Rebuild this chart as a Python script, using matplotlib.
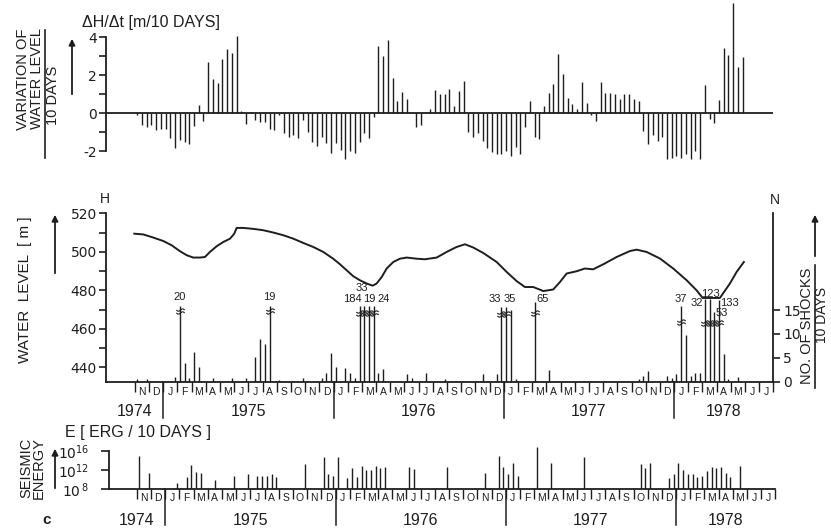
import numpy as np
import matplotlib
matplotlib.use("Agg")
import matplotlib.pyplot as plt
from matplotlib import font_manager
from matplotlib.lines import Line2D
from matplotlib.path import Path
from matplotlib.patches import FancyArrowPatch
from matplotlib.ticker import FuncFormatter, NullLocator
from matplotlib.transforms import blended_transform_factory

# ------------------------------------------------------------------ data
# time axis: 10-day periods, index 0 = 1-10 Sep 1974 ... index 140 = 21-31 Jul 1978
n_periods = 141
month_letters = ["J", "F", "M", "A", "M", "J", "J", "A", "S", "O", "N", "D"]
year_labels = [1974, 1975, 1976, 1977, 1978]

# variation of water level per 10 days [m], periods 6 .. 134
dh_first_period = 6
dh_values = [
    -0.1, -0.6, -0.7, -0.6, -0.9, -0.85, -0.8, -1.3, -1.8, -1.4, -1.5, -1.6,
    -0.65, 0.44, -0.4, 2.7, 1.8, 1.6, 2.85, 3.4, 3.2, 4.07, 0.12, -0.58,
    0.07, -0.35, -0.44, -0.44, -0.8, -0.88, -0.1, -1.05, -1.26, -1.14, -1.32, -0.35,
    -1.0, -1.53, -1.7, -1.23, -1.58, -2.1, -1.58, -1.93, -2.42, -2.0, -2.07, -1.5,
    -1.05, -1.3, -0.2, 3.55, 3.0, 3.85, 1.85, 0.67, 1.14, 0.75, 0.0, -0.74,
    -0.6, 0.07, 0.22, 1.25, 1.03, 1.0, 1.3, 0.39, 1.18, 1.7, -0.98, -1.23,
    -1.02, -1.46, -1.84, -2.02, -2.12, -2.16, -1.98, -2.25, -1.75, -2.16, -0.72, 0.65,
    -1.25, -1.37, 0.39, 1.05, 1.53, 3.1, 2.05, 0.82, 0.47, 0.21, 1.65, 0.56,
    -0.1, -0.4, 1.65, 1.05, 1.05, 1.03, 0.77, 1.0, 1.0, 0.77, 0.65, -0.93,
    -1.63, -1.16, -1.46, -1.23, -2.39, -2.33, -2.25, -2.33, -2.16, -2.42, -1.98, -2.39,
    1.47, -0.28, -0.53, 0.7, 3.46, 3.07, 5.79, 2.44, 2.98,
]

# water level H [m] (time in decimal years)
level_time = [
    1974.830, 1974.883, 1974.941, 1975.000, 1975.049, 1975.098, 1975.138, 1975.176,
    1975.216, 1975.245, 1975.274, 1975.314, 1975.353, 1975.392, 1975.417, 1975.431,
    1975.470, 1975.529, 1975.587, 1975.646, 1975.705, 1975.764, 1975.822, 1975.881,
    1975.940, 1975.998, 1976.038, 1976.077, 1976.116, 1976.155, 1976.195, 1976.230,
    1976.253, 1976.283, 1976.312, 1976.351, 1976.390, 1976.430, 1976.488, 1976.537,
    1976.606, 1976.664, 1976.723, 1976.772, 1976.821, 1976.879, 1976.958, 1977.017,
    1977.075, 1977.124, 1977.173, 1977.232, 1977.290, 1977.330, 1977.369, 1977.428,
    1977.476, 1977.525, 1977.584, 1977.663, 1977.741, 1977.780, 1977.839, 1977.917,
    1977.995, 1978.074, 1978.132, 1978.168, 1978.269, 1978.328, 1978.367, 1978.410,
]
level_m = [
    509.4, 509.0, 507.4, 505.6, 503.4, 500.3, 498.2, 497.0,
    497.0, 497.3, 499.9, 502.9, 505.1, 506.8, 509.4, 512.4,
    512.4, 511.9, 511.2, 510.0, 508.6, 506.8, 504.6, 502.5,
    499.9, 496.4, 493.5, 490.4, 487.3, 485.2, 483.5, 482.4,
    483.5, 486.9, 491.3, 494.7, 496.4, 497.0, 496.4, 496.1,
    497.0, 499.9, 502.5, 503.9, 502.2, 499.4, 494.7, 489.5,
    484.8, 481.7, 481.7, 479.6, 480.4, 484.3, 488.7, 489.9,
    491.3, 490.9, 493.5, 497.3, 500.4, 501.1, 499.9, 496.5,
    491.3, 485.2, 480.0, 476.0, 476.0, 483.5, 489.5, 494.7,
]

# number of shocks per 10 days
shock_periods = [6, 8, 14, 15, 16, 17, 18, 19, 22, 26, 29, 31, 32, 33, 34, 36, 41, 45,
                 46, 47, 48, 50, 51, 52, 53, 54, 55, 56, 57, 58, 63, 64, 67, 71, 79,
                 82, 83, 84, 85, 86, 90, 93, 112, 113, 114, 118, 119, 120, 121, 122,
                 123, 124, 125, 126, 127, 128, 129, 130, 131, 133]
shock_counts = [0.5, 0.5, 0.9, 20, 3.9, 0.7, 6.2, 3.0, 0.7, 0.7, 0.7, 5.1, 9.0, 7.8, 19,
                0.3, 0.7, 0.7, 1.8, 5.9, 3.0, 2.8, 1.8, 0.7, 184, 33, 19, 24, 1.8, 2.6,
                1.6, 0.7, 1.8, 0.5, 1.6, 1.6, 33, 35, 15, 0.5, 65, 2.5, 0.5, 1.2, 2.3,
                1.1, 0.7, 1.6, 37, 9.7, 1.1, 1.9, 1.9, 32, 123, 53, 133, 5.7, 0.5, 0.9]
shock_axis_max = 15  # counts above this are drawn broken (with value label)

# seismic energy per 10 days, log10(E [erg])
energy_periods = [6, 8, 14, 16, 17, 18, 19, 22, 26, 29, 31, 32, 33, 34, 35, 41, 45, 46,
                  47, 48, 50, 51, 52, 53, 54, 55, 56, 57, 58, 63, 64, 71, 79, 82, 83,
                  84, 85, 86, 90, 93, 100, 112, 113, 114, 118, 119, 120, 121, 122, 123,
                  124, 125, 126, 127, 128, 129, 130, 131, 133]
energy_log10 = [14.9, 11.5, 9.25, 10.5, 13.1, 11.7, 11.5, 9.9, 10.85, 11.1, 10.85, 10.85,
                10.8, 11.1, 10.6, 13.2, 14.7, 11.1, 10.85, 14.7, 10.4, 12.4, 10.6, 12.9,
                12.0, 12.0, 12.9, 12.5, 12.65, 12.65, 12.2, 12.6, 11.3, 14.9, 12.7, 11.2,
                13.4, 10.8, 16.75, 13.4, 14.7, 13.2, 12.4, 13.4, 10.4, 11.2, 13.4, 12.0,
                11.2, 11.2, 10.5, 10.85, 11.9, 12.6, 12.4, 12.6, 11.5, 10.5, 12.9]

# layout of the broken (off-scale) shock bars: drawn top, break mark, label dx, label y
break_layout = {
    15: (15.8, 14.8, 0.0, 17.7), 34: (15.8, 14.8, 0.0, 17.7),
    53: (15.8, 14.4, -1.6, 17.3), 54: (15.8, 14.4, -0.5, 19.7),
    55: (15.8, 14.4, 0.0, 17.3), 56: (15.8, 14.4, 2.0, 17.3),
    83: (15.7, 14.2, -1.5, 17.4), 84: (15.7, 14.2, 0.8, 17.4),
    90: (16.7, 14.3, 1.7, 17.2), 121: (15.9, 12.5, 0.0, 17.4),
    126: (17.4, 12.3, -1.6, 16.5), 127: (17.4, 12.3, 0.2, 18.3),
    128: (14.6, 12.3, 1.6, 14.3), 129: (17.0, 12.3, 2.3, 16.5),
}

# ------------------------------------------------------------------ style
W, H = 831, 530
INK = "#1e1e1e"


def have(name):
    try:
        font_manager.findfont(font_manager.FontProperties(family=name), fallback_to_default=False)
        return True
    except Exception:
        return False


NARROW_OK = have("Liberation Sans Narrow")
NARROW = ["Liberation Sans Narrow", "DejaVu Sans"] if NARROW_OK else ["Liberation Sans", "DejaVu Sans"]
REG = ["Liberation Sans", "DejaVu Sans"]
TICKF = ["DejaVu Sans"]
SIDE = 11.5 if NARROW_OK else 10.5
plt.rcParams["font.family"] = NARROW
plt.rcParams["mathtext.fontset"] = "custom"
plt.rcParams["mathtext.rm"] = "DejaVu Sans"
plt.rcParams["text.color"] = INK
plt.rcParams["axes.edgecolor"] = INK
plt.rcParams["xtick.color"] = INK
plt.rcParams["ytick.color"] = INK

# "≈" break symbol drawn as a marker path (two small waves)
_t = np.linspace(-1, 1, 13)
_wave = 0.28 * np.sin(_t * np.pi)
_verts, _codes = [], []
for off in (0.35, -0.35):
    pts = list(zip(_t, _wave + off))
    _verts += pts
    _codes += [Path.MOVETO] + [Path.LINETO] * (len(pts) - 1)
BREAK_MARK = Path(_verts, _codes)


def px_rect(l, t, r, b):
    return [l / W, 1 - b / H, (r - l) / W, (b - t) / H]


def fx(x):
    return x / W


def fy(y):
    return 1 - y / H


fig = plt.figure(figsize=(W / 100, H / 100), dpi=100)
fig.patch.set_facecolor("white")

X0, X1 = 106.5, 773.4


def period_from_year(t):
    return (np.asarray(t) - (1974 + 8 / 12)) * 36


def style_left(ax, lo, hi):
    for s in ["top", "right"]:
        ax.spines[s].set_visible(False)
    ax.spines["left"].set_bounds(lo, hi)
    ax.spines["left"].set_linewidth(1.3)
    ax.patch.set_alpha(0)


def month_axis(ax, axes_h_px, letter_pad, year_drop, year_y):
    ax.spines["bottom"].set_linewidth(1.3)
    bounds = np.arange(6, n_periods + 1, 3)
    ax.set_xticks(bounds)
    ax.set_xticklabels([])
    mids = np.arange(6, n_periods, 3) + 1.5
    ax.set_xticks(mids, minor=True)
    ax.set_xticklabels([month_letters[(8 + int(m // 3)) % 12] for m in mids],
                       minor=True, family=REG, fontsize=7.5)
    ax.tick_params(axis="x", which="major", direction="out", length=7, width=1.0)
    ax.tick_params(axis="x", which="minor", length=0, pad=letter_pad)
    tr = blended_transform_factory(ax.transData, ax.transAxes)
    for yr in year_labels[1:]:
        xb = (yr - 1974) * 36 - 24
        ax.add_line(Line2D([xb, xb], [0, -year_drop / axes_h_px], transform=tr,
                           color=INK, lw=1.1, clip_on=False))
    for yr in year_labels:
        start = (yr - 1974) * 36 - 24
        a = max(0, start)
        b = min(n_periods, start + 36)
        ax.text((a + b) / 2, -year_y / axes_h_px, str(yr), transform=tr,
                ha="center", va="center", fontsize=11.5, family=REG)


# ---------------------------------------------------------------- panel a: dH/dt
ax1 = fig.add_axes(px_rect(X0, 1.2, X1, 168.4))
ax1.set_xlim(0, n_periods)
ax1.set_ylim(-2.9, 5.9)
dh_x = np.arange(len(dh_values)) + dh_first_period + 0.5
ax1.vlines(dh_x, 0, dh_values, colors=INK, lw=1.0)
ax1.axhline(0, color=INK, lw=1.3)
style_left(ax1, -2, 4)
ax1.spines["bottom"].set_visible(False)
ax1.set_xticks([])
ax1.set_yticks(range(-2, 5))
ax1.yaxis.set_major_formatter(FuncFormatter(lambda v, p: f"{int(v)}" if int(v) % 2 == 0 else ""))
ax1.tick_params(axis="y", direction="out", length=5, width=1.2, labelsize=10, pad=2)
for lb in ax1.get_yticklabels():
    lb.set_family(TICKF)

fig.text(fx(82), fy(22), "ΔH/Δt [m/10 DAYS]", fontsize=11.5, family=REG, va="center", ha="left")
fig.text(fx(23), fy(79), "VARIATION OF", rotation=90, ha="center", va="center", fontsize=SIDE)
fig.text(fx(37), fy(79), "WATER LEVEL", rotation=90, ha="center", va="center", fontsize=SIDE)
fig.add_artist(Line2D([fx(44.5), fx(44.5)], [fy(30), fy(158)], transform=fig.transFigure, color=INK, lw=1.2))
fig.text(fx(53), fy(95), "10 DAYS", rotation=90, ha="center", va="center", fontsize=SIDE)
fig.add_artist(FancyArrowPatch((fx(72), fy(97)), (fx(72), fy(36)), transform=fig.transFigure,
                               arrowstyle="-|>", mutation_scale=9, lw=1.3, color=INK))

# ---------------------------------------------------------------- panel b: level + shocks
ax2 = fig.add_axes(px_rect(X0, 195, X1, 381.7))
ax2.set_xlim(0, n_periods)
ax2.set_ylim(432.5, 529.5)
ax2.plot(period_from_year(level_time), level_m, color=INK, lw=1.4)
style_left(ax2, 432.5, 520)
ax2.set_yticks(range(440, 521, 10))
ax2.yaxis.set_major_formatter(FuncFormatter(lambda v, p: f"{int(v)}" if int(v) % 20 == 0 else ""))
ax2.tick_params(axis="y", direction="out", length=5, width=1.2, labelsize=10, pad=2)
for lb in ax2.get_yticklabels():
    lb.set_family(TICKF)
month_axis(ax2, 381.7 - 195, 4, 36, 30)

ax3 = ax2.twinx()
ax3.set_xlim(0, n_periods)
ax3.set_ylim(0, 39.06)
for s in ["top", "left", "bottom"]:
    ax3.spines[s].set_visible(False)
ax3.spines["right"].set_bounds(0, 35.3)
ax3.spines["right"].set_linewidth(1.3)
ax3.set_yticks([0, 5, 10, 15])
ax3.tick_params(axis="y", direction="out", length=5, width=1.2, labelsize=10, pad=2)
for lb in ax3.get_yticklabels():
    lb.set_family(TICKF)

for k, n in zip(shock_periods, shock_counts):
    x = k + 0.5
    if n > shock_axis_max and k in break_layout:
        top, mark, dx, ly = break_layout[k]
        ax3.vlines(x, 0, top, colors=INK, lw=1.0)
        ax3.plot([x], [mark], marker=BREAK_MARK, ms=6, mfc="none", mec=INK, mew=0.8,
                 ls="none")
        ax3.text(x + dx, ly, f"{n:g}", ha="center", va="center", fontsize=8, family=REG)
    else:
        ax3.vlines(x, 0, n, colors=INK, lw=1.0)

fig.text(fx(105), fy(199), "H", ha="center", va="center", fontsize=10, family=REG)
fig.text(fx(775), fy(200), "N", ha="center", va="center", fontsize=10, family=REG)
fig.text(fx(25), fy(290), "WATER  LEVEL  [ m ]", rotation=90, ha="center", va="center", fontsize=SIDE + 0.5)
fig.add_artist(FancyArrowPatch((fx(55), fy(276)), (fx(55), fy(212)), transform=fig.transFigure,
                               arrowstyle="-|>", mutation_scale=9, lw=1.3, color=INK))
fig.text(fx(807), fy(326), "NO. OF SHOCKS", rotation=90, ha="center", va="center", fontsize=SIDE)
fig.add_artist(Line2D([fx(815), fx(815)], [fy(265), fy(388)], transform=fig.transFigure, color=INK, lw=1.2))
fig.text(fx(822), fy(315), "10 DAYS", rotation=90, ha="center", va="center", fontsize=SIDE - 0.5)
fig.add_artist(FancyArrowPatch((fx(815), fy(259)), (fx(815), fy(212)), transform=fig.transFigure,
                               arrowstyle="-|>", mutation_scale=9, lw=1.3, color=INK))

# ---------------------------------------------------------------- panel c: energy
ax4 = fig.add_axes(px_rect(X0 + 2, 440, X1 + 2, 489.3))
ax4.set_xlim(0, n_periods)
ax4.set_yscale("log")
ax4.set_ylim(1e8, 10 ** 18.29)
ax4.vlines(np.array(energy_periods) + 0.5, 1e8, 10 ** np.array(energy_log10), colors=INK, lw=1.0)
style_left(ax4, 1e8, 1e16)
ax4.set_yticks([1e8, 1e12, 1e16])
ax4.set_yticklabels([r"$10^{\,8}$", r"$10^{12}$", r"$10^{16}$"])
ax4.yaxis.set_minor_locator(NullLocator())
ax4.tick_params(axis="y", direction="out", length=6, width=1.2, labelsize=10, pad=8)
month_axis(ax4, 489.3 - 440, 2.5, 36, 31)

fig.text(fx(65), fy(433), "E [ ERG / 10 DAYS ]", fontsize=11.5, family=REG, va="center", ha="left")
fig.text(fx(26), fy(468), "SEISMIC", rotation=90, ha="center", va="center", fontsize=SIDE)
fig.text(fx(39), fy(468), "ENERGY", rotation=90, ha="center", va="center", fontsize=SIDE)
fig.add_artist(FancyArrowPatch((fx(55), fy(491)), (fx(55), fy(446)), transform=fig.transFigure,
                               arrowstyle="-|>", mutation_scale=9, lw=1.3, color=INK))
fig.text(fx(47), fy(520), "c", ha="center", va="center", fontsize=11, fontweight="bold", family=REG)

fig.savefig("out.png", dpi=100, facecolor="white")
